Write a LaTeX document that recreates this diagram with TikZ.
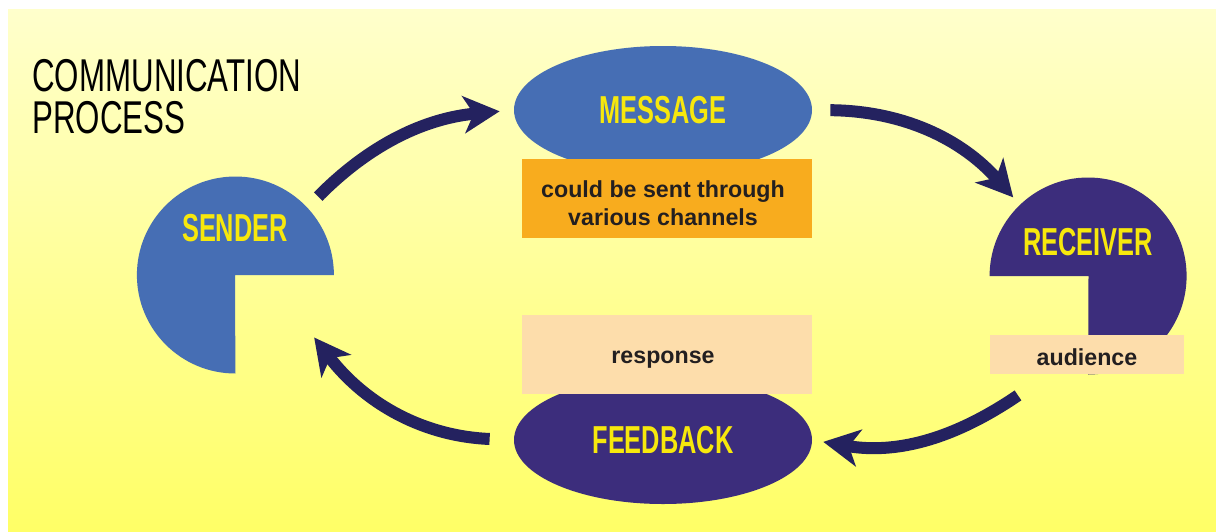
\documentclass[tikz,border=0pt]{standalone}
\usepackage{fontspec}
\setmainfont{Liberation Sans}
\newfontfamily\titlefont[FakeStretch=0.68]{Liberation Sans}
\newfontfamily\stagefont[FakeStretch=0.65]{Liberation Sans}
\usetikzlibrary{arrows.meta,shapes.geometric}

\definecolor{bgtop}{HTML}{FFFFCC}
\definecolor{bgbot}{HTML}{FFFF66}
\definecolor{msgblue}{HTML}{466EB4}
\definecolor{recpurple}{HTML}{3C2D7C}
\definecolor{arrownavy}{HTML}{24225F}
\definecolor{labelyellow}{HTML}{F7E80C}
\definecolor{noteorange}{HTML}{F8AC1E}
\definecolor{notepeach}{HTML}{FDDDAB}
\definecolor{notetext}{HTML}{231F20}

\tikzset{
  flow/.style={line width=6pt, color=arrownavy, -{Stealth[length=18pt, width=18.5pt, inset=5pt]}},
  stagename/.style={text=labelyellow, font=\stagefont\bfseries\fontsize{19.5}{20}\selectfont, inner sep=0pt},
  stage/.style={ellipse, fill=#1, minimum width=149pt, minimum height=64pt, inner sep=0pt},
  pie/.style={circle, minimum size=98.5pt, inner sep=0pt},
  notebox/.style={fill=#1, inner sep=0pt, minimum width=145pt, minimum height=39.5pt},
  notetext/.style={text=notetext, font=\bfseries\fontsize{11.6}{14}\selectfont, align=center, inner sep=0pt},
}

\begin{document}
\begin{tikzpicture}[x=0.5pt, y=0.5pt]
  % page and backdrop
  \fill[white] (0,0) rectangle (1216,-531);
  \shade[top color=bgtop, bottom color=bgbot] (8,-9) rectangle (1216,-531);
  \useasboundingbox (0,0) rectangle (1216,-531);

  % title
  \node[anchor=base west, align=left, font=\titlefont\fontsize{23}{21}\selectfont, inner sep=0pt] (title) at (32,-133) {COMMUNICATION\\PROCESS};

  % sender and receiver as cut pies
  \node[pie] (sender) at (235,-275) {};
  \fill[msgblue] (sender.center) -- (sender.east) arc[start angle=0, end angle=270, radius=49.25pt] -- cycle;
  \node[stagename] (sender-name) at (235,-228) {SENDER};

  \node[pie] (receiver) at (1088.5,-276) {};
  \fill[recpurple] (receiver.center) -- (receiver.west) arc[start angle=180, end angle=-90, radius=49.25pt] -- cycle;
  \node[stagename] (receiver-name) at (1088,-242) {RECEIVER};
  \node[notebox=notepeach, minimum width=97pt, minimum height=19.5pt] (audience) at (1087,-354.5) {};
  \node[notetext] (audience-text) at ([yshift=-1.5pt]audience) {audience};

  % message and feedback
  \node[stage=msgblue, stagename] (message) at (663,-110) {MESSAGE};
  \node[notebox=noteorange] (channels) at (667,-198.5) {};
  \node[notetext] (channels-text) at (663,-203.5) {could be sent through\\various channels};
  \node[stage=recpurple, stagename] (feedback) at (663,-440) {FEEDBACK};
  \node[notebox=notepeach] (response) at (667,-354.5) {};
  \node[notetext] (response-text) at (663,-359.5) {response};

  % arrows round the loop
  \draw[flow, shorten <=7.75pt, shorten >=7pt] (sender.43) to[bend left=20] (message.west);
  \draw[flow, shorten <=9pt, shorten >=5pt] (message.east) to[bend left=24] (receiver.134);
  \draw[flow, shorten >=5.5pt] ([xshift=-34.5pt, yshift=-10.5pt]audience.south) to[bend left=22] (feedback.east);
  \draw[flow, shorten <=12pt, shorten >=1pt] (feedback.west) to[bend left=25] (sender.-38);
\end{tikzpicture}
\end{document}
